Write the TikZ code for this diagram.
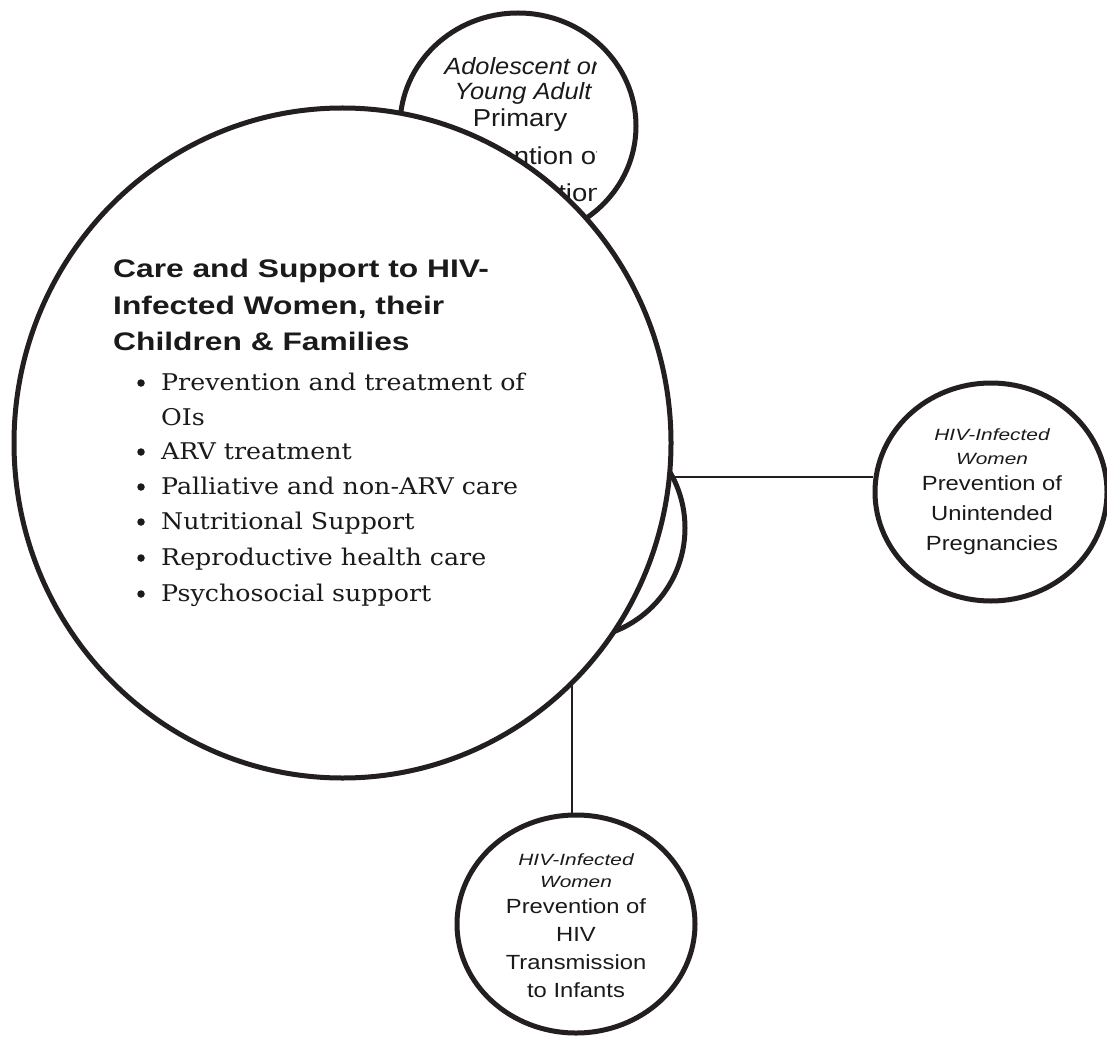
\documentclass[tikz,border=0pt]{standalone}
\usepackage{fontspec}
\usetikzlibrary{shapes.geometric}
\setmainfont{Liberation Sans}
% faces used in the circles
\newfontfamily\headfont[FakeStretch=1.25]{Liberation Sans}
\newfontfamily\listfont[FakeStretch=1.1]{DejaVu Serif}
\newfontfamily\satfont[FakeStretch=1.16]{Liberation Sans}
\newfontfamily\satitfont[FakeStretch=1.28]{Liberation Sans}
\newfontfamily\topfont[FakeStretch=1.12]{Liberation Sans}
\newfontfamily\topitfont[FakeStretch=1.08]{Liberation Sans}
\definecolor{ink}{HTML}{231F20}
\definecolor{txt}{HTML}{1A1A1A}

\begin{document}
\begin{tikzpicture}[x=1pt,y=-1pt,
  ring/.style={ellipse, draw=ink, line width=5pt, inner sep=0pt},
  link/.style={draw=ink, line width=2.7pt},
  line/.style={inner sep=0pt, text=txt},
  head/.style={line, anchor=base west, font=\headfont\bfseries\fontsize{25.4}{30}\selectfont},
  item/.style={line, anchor=base west, font=\listfont\fontsize{23}{28}\selectfont},
  dot/.style={circle, fill=txt, inner sep=0pt, minimum size=7.5pt},
  satit/.style={line, anchor=base, font=\satitfont\itshape\fontsize{16.3}{20}\selectfont},
  satrm/.style={line, anchor=base, font=\satfont\fontsize{20.5}{24}\selectfont},
  topit/.style={line, anchor=base, font=\topitfont\itshape\fontsize{23.5}{28}\selectfont},
  toprm/.style={line, anchor=base, font=\topfont\fontsize{24.5}{29}\selectfont}]
\useasboundingbox (0,0) rectangle (1107,1040);
\fill[white] (0,0) rectangle (1107,1040);

% outer circles
\node[ring, minimum width=236pt, minimum height=226pt] (adol) at (518,126) {};
\node[ring, minimum width=222pt, minimum height=222pt] (hub) at (574,528) {};
\node[ring, minimum width=232pt, minimum height=218pt] (unint) at (991,492) {};
\node[ring, minimum width=238pt, minimum height=218pt] (ptct) at (576,924) {};

% text of the top circle, cut at the right side of its box
\begin{scope}
  \clip (398,20) rectangle (596,240);
  \node[topit] (a1) at (522,75) {Adolescent or};
  \node[topit] (a2) at (523,100) {Young Adult};
  \node[toprm] (a3) at (520,127) {Primary};
  \node[toprm] (a4) at (523,165) {Prevention of};
  \node[toprm] (a5) at (524,202) {HIV Infection};
\end{scope}

% connectors
\coordinate (hj) at (670,477);
\draw[link] (hj) -- (hj -| unint.west);
\coordinate (vj) at (572,600);
\draw[link] (vj) -- (vj |- ptct.north);

% right circle text
\node[satit] (u1) at (992,440) {HIV-Infected};
\node[satit] (u2) at (992,464) {Women};
\node[satrm] (u3) at (992,490) {Prevention of};
\node[satrm] (u4) at (992,520) {Unintended};
\node[satrm] (u5) at (992,550) {Pregnancies};

% bottom circle text
\node[satit] (p1) at (576,865) {HIV-Infected};
\node[satit] (p2) at (576,887) {Women};
\node[satrm] (p3) at (576,913) {Prevention of};
\node[satrm] (p4) at (576,941) {HIV};
\node[satrm] (p5) at (576,969) {Transmission};
\node[satrm] (p6) at (576,997) {to Infants};

% main circle on top
\node[ring, fill=white, minimum width=657pt, minimum height=670pt] (main) at (342.5,443) {};

\node[head] (h1) at (113,278) {Care and Support to HIV-};
\node[head] (h2) at (113,314) {Infected Women, their};
\node[head] (h3) at (113,350) {Children \& Families};

\node[item] (i1) at (161,390) {Prevention and treatment of};
\node[item] (i1b) at (161,425) {OIs};
\node[item] (i2) at (161,459) {ARV treatment};
\node[item] (i3) at (161,494) {Palliative and non-ARV care};
\node[item] (i4) at (161,529) {Nutritional Support};
\node[item] (i5) at (161,565) {Reproductive health care};
\node[item] (i6) at (161,601) {Psychosocial support};

\node[dot] (d1) at (141,383) {};
\node[dot] (d2) at (141,452) {};
\node[dot] (d3) at (141,487) {};
\node[dot] (d4) at (141,522) {};
\node[dot] (d5) at (141,558) {};
\node[dot] (d6) at (141,594) {};
\end{tikzpicture}
\end{document}
